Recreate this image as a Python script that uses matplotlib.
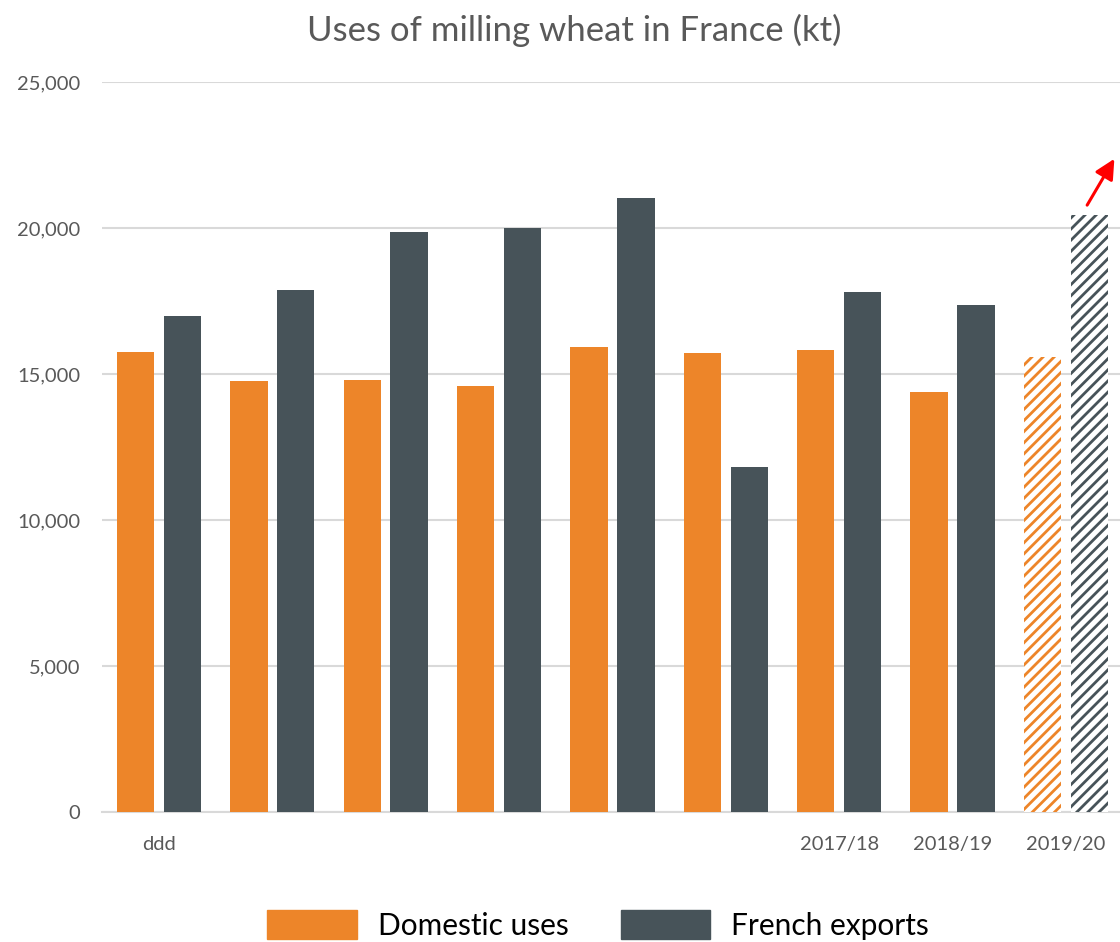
import numpy as np
import matplotlib.pyplot as plt
from matplotlib.patches import Patch

plt.rcParams['font.family'] = ['Lato', 'DejaVu Sans']
plt.rcParams['hatch.linewidth'] = 2.0

# data (kt)
seasons = ['ddd', '', '', '', '', '', '2017/18', '2018/19', '2019/20']
domestic = [15750, 14760, 14790, 14590, 15920, 15720, 15820, 14380, 15580]
exports = [16990, 17880, 19860, 20000, 21030, 11820, 17810, 17360, 20450]
forecast = [False] * 8 + [True]

c_dom = '#ED8529'
c_exp = '#475359'
grey = '#595959'

fig = plt.figure(figsize=(11.2, 9.42), dpi=100)
ax = fig.add_axes([0.0913, 0.138, 0.911, 0.775])

x = np.arange(len(seasons))
w = 0.33
off = 0.207
for i in x:
    for val, col, dx in [(domestic[i], c_dom, -off), (exports[i], c_exp, off)]:
        if forecast[i]:
            ax.bar(i + dx, val, w, facecolor='white', edgecolor=col,
                   hatch='///', linewidth=0, zorder=3)
        else:
            ax.bar(i + dx, val, w, color=col, linewidth=0, zorder=3)

ax.set_xlim(-0.5, len(seasons) - 0.5)
ax.set_ylim(0, 25000)
ax.set_yticks(np.arange(0, 25001, 5000))
ax.set_yticklabels([f'{v:,}' for v in range(0, 25001, 5000)])
ax.set_xticks(x)
ax.set_xticklabels(seasons)
ax.tick_params(axis='both', length=0, labelsize=14.5, labelcolor=grey)
ax.tick_params(axis='y', pad=16)
ax.tick_params(axis='x', pad=17)
ax.grid(axis='y', color='#d9d9d9', linewidth=1.5, zorder=0)
for s in ['top', 'right', 'left']:
    ax.spines[s].set_visible(False)
ax.spines['bottom'].set_color('#d9d9d9')
ax.spines['bottom'].set_linewidth(1.5)

# red arrow above the forecast bar
ax.annotate('', xy=(8.44, 22450), xytext=(8.175, 20700),
            arrowprops=dict(arrowstyle='-|>', color='red', lw=2.2,
                            mutation_scale=30),
            annotation_clip=False)

fig.suptitle('Uses of milling wheat in France (kt)', x=0.513, y=0.985,
             fontsize=25, color=grey)

handles = [Patch(color=c_dom, label='Domestic uses'),
           Patch(color=c_exp, label='French exports')]
fig.legend(handles=handles, loc='center', bbox_to_anchor=(0.534, 0.018),
           ncol=2, frameon=False, fontsize=21.5, handlelength=3.0,
           handleheight=1.1, handletextpad=0.7, columnspacing=1.75)

fig.savefig('out.png', dpi=100)
